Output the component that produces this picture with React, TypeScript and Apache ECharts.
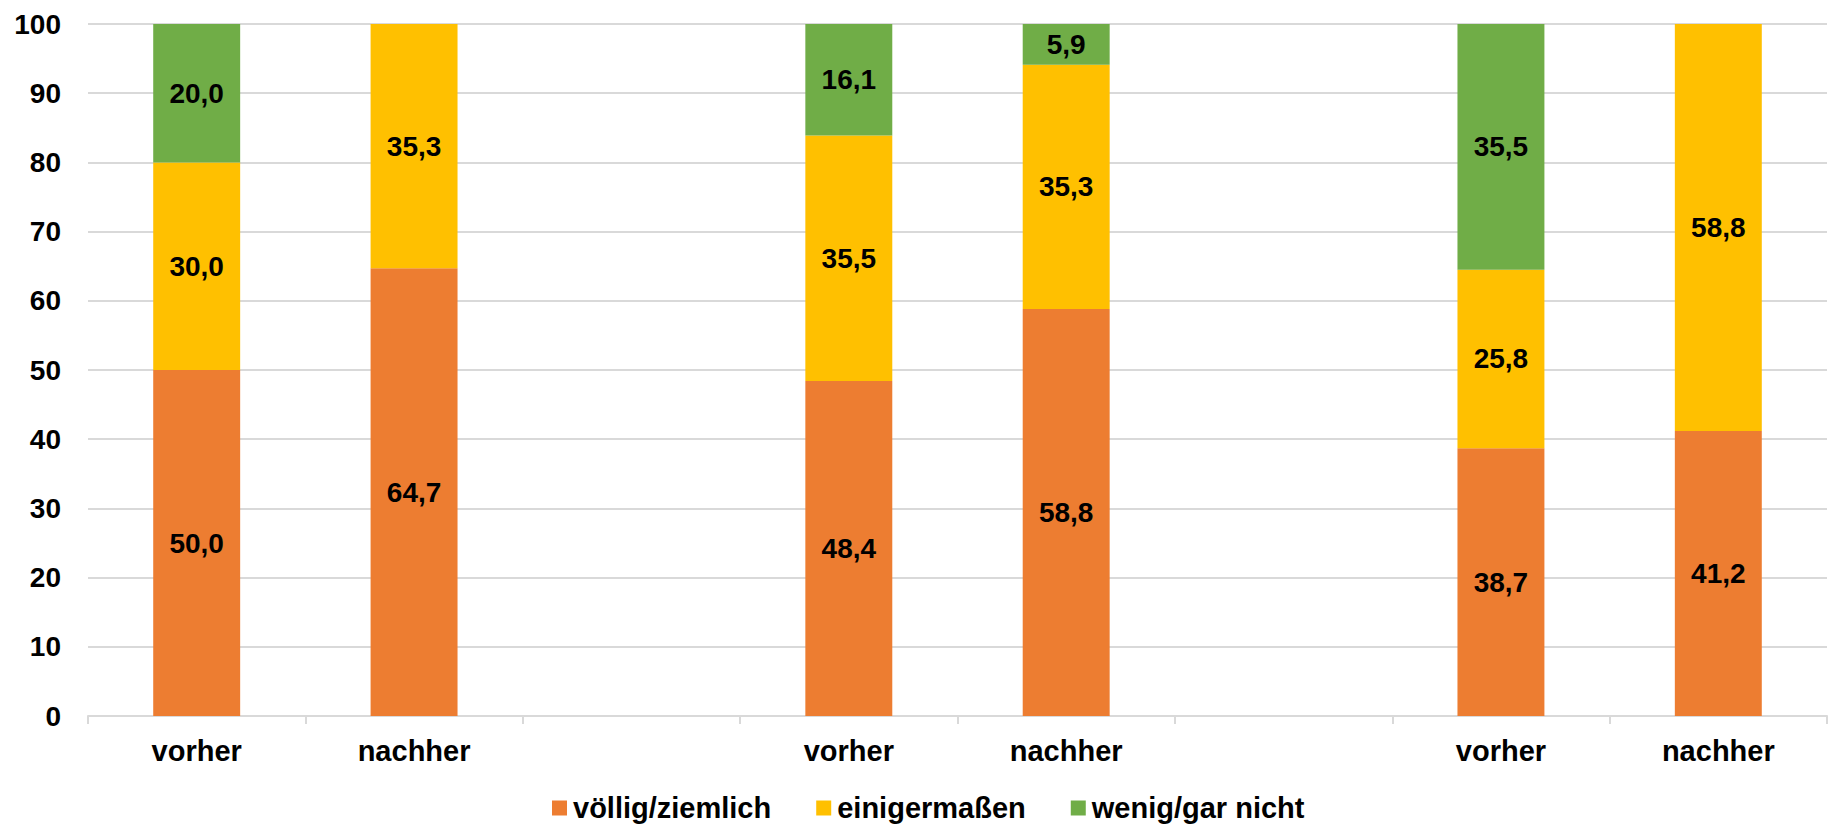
import React, { useEffect, useRef } from "react";
import * as echarts from "echarts";

const categories = ["vorher", "nachher", "", "vorher", "nachher", "", "vorher", "nachher"];
const seriesNames = ["völlig/ziemlich", "einigermaßen", "wenig/gar nicht"];
const voellig = [50.0, 64.7, null, 48.4, 58.8, null, 38.7, 41.2];
const einigermassen = [30.0, 35.3, null, 35.5, 35.3, null, 25.8, 58.8];
const wenig = [20.0, null, null, 16.1, 5.9, null, 35.5, null];
const colors = ["#ED7D31", "#FFC000", "#70AD47"];
const yTicks = { min: 0, max: 100, interval: 10 };

const FONT = "'Liberation Sans', Arial, sans-serif";

export default function App() {
  const ref = useRef<HTMLDivElement>(null);
  useEffect(() => {
    if (!ref.current) return;
    const chart = echarts.init(ref.current, undefined, { renderer: "svg" });
    const dataSets = [voellig, einigermassen, wenig];
    chart.setOption({
      animation: false,
      textStyle: { fontFamily: FONT },
      grid: { left: 88, right: 4, top: 24, bottom: 108, containLabel: false },
      legend: {
        left: 552,
        top: 793,
        padding: 0,
        itemWidth: 15,
        itemHeight: 15,
        itemGap: 45,
        icon: "rect",
        textStyle: {
          fontFamily: FONT,
          fontSize: 29,
          fontWeight: "bold",
          color: "#000",
          lineHeight: 30,
          padding: [0, 0, 0, 1],
        },
        data: seriesNames,
      },
      xAxis: {
        type: "category",
        data: categories,
        axisLine: { show: true, lineStyle: { color: "#D9D9D9", width: 2 } },
        axisTick: { show: true, length: 8, lineStyle: { color: "#D9D9D9", width: 2 } },
        axisLabel: {
          margin: 20,
          fontFamily: FONT,
          fontSize: 29,
          fontWeight: "bold",
          color: "#000",
          lineHeight: 29,
        },
      },
      yAxis: {
        type: "value",
        min: yTicks.min,
        max: yTicks.max,
        interval: yTicks.interval,
        axisLine: { show: false },
        axisTick: { show: false },
        splitLine: { show: true, lineStyle: { color: "#D9D9D9", width: 2 } },
        axisLabel: {
          margin: 27,
          fontFamily: FONT,
          fontSize: 28,
          fontWeight: "bold",
          color: "#000",
        },
      },
      series: seriesNames.map((name, i) => ({
        name,
        type: "bar",
        stack: "total",
        barCategoryGap: "60%",
        data: dataSets[i],
        itemStyle: { color: colors[i] },
        label: {
          show: true,
          position: "inside",
          fontFamily: FONT,
          fontSize: 28,
          fontWeight: "bold",
          color: "#000",
          formatter: (p: any) =>
            p.value == null ? "" : Number(p.value).toFixed(1).replace(".", ","),
        },
      })),
    });
    return () => chart.dispose();
  }, []);
  return (
    <div
      ref={ref}
      style={{ position: "fixed", left: 0, top: 0, width: 1831, height: 824, background: "#fff" }}
    />
  );
}
